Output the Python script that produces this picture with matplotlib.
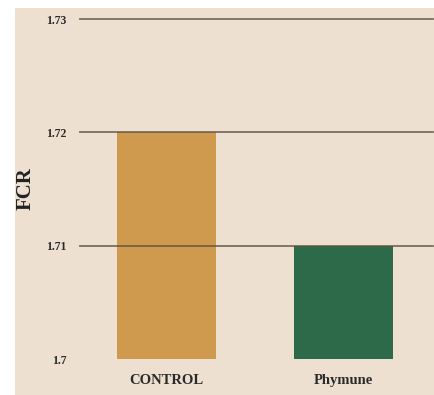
import matplotlib
matplotlib.use('Agg')
import matplotlib.pyplot as plt
from matplotlib.patches import Rectangle

# FCR by group
groups = ['CONTROL', 'Phymune']
fcr = [1.72, 1.71]
bar_colors = ['#d09a4e', '#2d6a4a']
yticks = [1.7, 1.71, 1.72, 1.73]
ytick_labels = ['1.7', '1.71', '1.72', '1.73']

plt.rcParams['font.family'] = ['Liberation Serif', 'DejaVu Serif']

fig = plt.figure(figsize=(4.35, 3.95), dpi=100)
fig.patch.set_facecolor('white')
# beige panel behind the chart
panel = Rectangle((15/435, 0), 1 - 15/435, 1 - 8/395,
                  transform=fig.transFigure, facecolor='#ede0d1',
                  edgecolor='none', zorder=-5)
fig.add_artist(panel)

ax = fig.add_axes([80/435, 1 - 359/395, 353/435, (359 - 19)/395])
ax.set_facecolor('none')
ax.set_zorder(2)

x = range(len(groups))
ax.bar(x, [v - 1.7 for v in fcr], bottom=1.7, width=0.56, color=bar_colors, zorder=2)

ax.set_ylim(1.7, 1.73)
ax.set_xlim(-0.489, 1.506)
for y in yticks[1:]:
    ax.axhline(y, color='#5e5142', lw=1.3, alpha=0.8, zorder=3, clip_on=False)

ax.set_yticks(yticks)
ax.set_yticklabels(ytick_labels, fontsize=8.5, fontweight='bold', color='#2a2a2a')
ax.set_xticks(list(x))
ax.set_xticklabels(groups, fontsize=10.5, fontweight='bold', color='#2a2a2a')
ax.tick_params(axis='y', length=0, pad=10)
ax.tick_params(axis='x', length=0, pad=11)
for s in ax.spines.values():
    s.set_visible(False)

ax.set_ylabel('FCR', fontsize=15, fontweight='bold', color='#222222')
ax.yaxis.set_label_coords(-(80 - 36) / 353, 0.5)

plt.savefig('out.png', dpi=100)
